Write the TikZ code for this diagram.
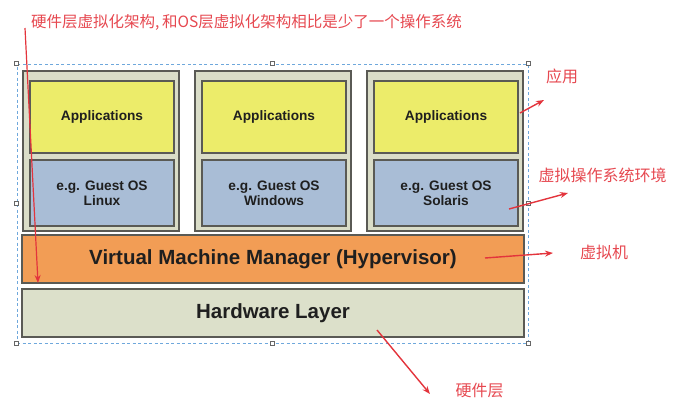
\documentclass[tikz,border=0pt]{standalone}
\usepackage{fontspec}
\setmainfont{Liberation Sans}
\newfontfamily\cjk{Noto Sans CJK SC}
\usepackage{xcolor}
\usetikzlibrary{positioning,arrows.meta}
\definecolor{vmBox}{HTML}{DADDC8}
\definecolor{vmEdge}{HTML}{5A5A55}
\definecolor{appY}{HTML}{ECEC6A}
\definecolor{osB}{HTML}{A9BDD6}
\definecolor{hypO}{HTML}{F29D55}
\definecolor{hwG}{HTML}{DCE0CA}
\definecolor{noteR}{HTML}{E3343C}
\definecolor{selB}{HTML}{6FA8DC}

\begin{document}
\begin{tikzpicture}[x=1pt, y=-1pt,
  every node/.style={font=\bfseries, text=black!88},
  layer/.style={rectangle, draw=vmEdge, line width=2pt, inner sep=0pt, align=center},
  note/.style={font=\cjk\fontsize{16}{18}\selectfont, text=noteR!90, inner sep=0pt},
  arr/.style={-{Stealth[length=8pt, width=6pt]}, line width=1.4pt, noteR},
  handle/.style={rectangle, draw=black!60, fill=white, line width=0.6pt,
                 minimum size=4pt, inner sep=0pt}
]
  \useasboundingbox (0,0) rectangle (692,415);

  % selection frame with handles
  \node[draw=selB, dash pattern=on 3pt off 2.5pt, line width=1pt, minimum width=511pt,
        minimum height=279pt, inner sep=0pt] (sel) at (272.5,203.5) {};
  \foreach \a in {north west,north,north east,east,south east,south,south west,west}
    \node[handle] at (sel.\a) {};

  % the three virtual machines
  \foreach \i/\os in {1/Linux,2/Windows,3/Solaris} {
    \node[layer, fill=vmBox, minimum width=156pt, minimum height=160pt]
          (vm\i) at ({101+172*(\i-1)},151) {};
    \node[layer, fill=appY, minimum width=144pt, minimum height=72pt,
          font=\bfseries\fontsize{13.7}{15}\selectfont]
          (app\i) at ({102+172*(\i-1)},117) {Applications};
    \node[layer, fill=osB, minimum width=144pt, minimum height=66pt,
          font=\bfseries\fontsize{13.7}{15}\selectfont]
          (gos\i) at ({102+172*(\i-1)},193) {e.g. Guest OS\\ \os};
  }

  \node[layer, fill=hypO, minimum width=502pt, minimum height=48pt,
        font=\bfseries\fontsize{20.5}{24}\selectfont]
        (hyp) at (273,259) {Virtual Machine Manager (Hypervisor)};
  \node[layer, fill=hwG, minimum width=502pt, minimum height=48pt,
        font=\bfseries\fontsize{20.5}{24}\selectfont]
        (hw) at (273,313) {Hardware Layer};

  % notes
  \node[note, anchor=west, font=\cjk\fontsize{15.5}{18}\selectfont] (title) at (31,22)
        {硬件层虚拟化架构,\,和OS层虚拟化架构相比是少了一个操作系统};
  \node[note] (lblApp) at (562,76) {应用};
  \node[note] (lblOS) at (602.5,175) {虚拟操作系统环境};
  \node[note] (lblVmm) at (604,252) {虚拟机};
  \node[note] (lblHw) at (479.5,391) {硬件层};

  \coordinate (tS) at (25,28);   \coordinate (tE) at (38,283);
  \coordinate (aS) at (520,113); \coordinate (aE) at (544,100);
  \coordinate (oS) at (509,209); \coordinate (oE) at (568,193);
  \coordinate (vS) at (485,258); \coordinate (vE) at (553,253);
  \coordinate (hS) at (377,330); \coordinate (hE) at (430,394);

  \draw[arr, line width=1.2pt] (tS) -- (tE);
  \draw[arr] (aS) -- (aE);
  \draw[arr] (oS) -- (oE);
  \draw[arr] (vS) -- (vE);
  \draw[arr] (hS) -- (hE);
\end{tikzpicture}
\end{document}
